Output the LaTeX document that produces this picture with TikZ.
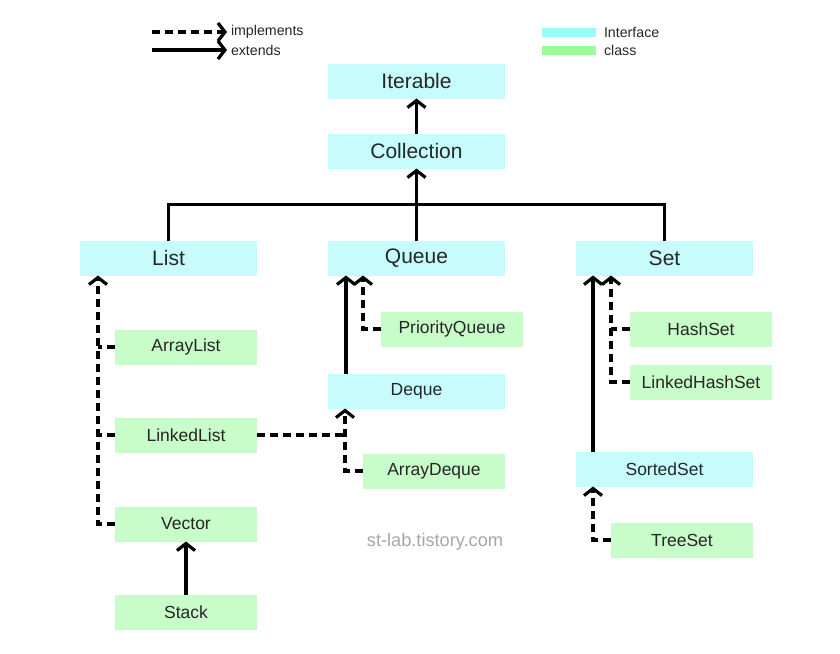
\documentclass[tikz,border=0pt]{standalone}
\usepackage{fontspec}
\setmainfont{Liberation Sans}
\usetikzlibrary{calc, arrows.meta, positioning}
\definecolor{ifacefill}{RGB}{198,252,252}
\definecolor{clsfill}{RGB}{200,252,200}
\definecolor{ifacekey}{RGB}{153,252,252}
\definecolor{clskey}{RGB}{153,252,153}

\begin{document}
\begin{tikzpicture}[
          x=0.5pt, y=-0.5pt,
          base/.style={rectangle, inner sep=0pt, outer sep=0pt, minimum height=17.5pt, text=black!85},
          iface/.style={base, fill=ifacefill, minimum width=88.5pt, font=\fontsize{10.5}{12}\selectfont},
          smalliface/.style={iface, font=\fontsize{8.75}{10}\selectfont},
          cls/.style={base, fill=clsfill, minimum width=71pt, font=\fontsize{8.75}{10}\selectfont},
          legbar/.style={rectangle, inner sep=0pt, outer sep=0pt, minimum width=27pt, minimum height=4.5pt},
          legtext/.style={inner sep=2pt, outer sep=0pt, anchor=west, text=black!85, font=\fontsize{7.1}{8}\selectfont},
          link/.style={line width=1.6pt},
          dashlink/.style={link, dash pattern=on 4pt off 2.5pt},
          arrow/.style={link, -{Straight Barb[length=3.5pt, width=9pt]}},
          dasharrow/.style={dashlink, -{Straight Barb[length=3.5pt, width=9pt]}}
        ]
          \useasboundingbox (0,0) rectangle (840,653);

          \coordinate (impl start) at (152,32);
          \node[legtext] (impl) at (227,32) {implements};
          \coordinate (ext start) at (152,50);
          \node[legtext] (ext) at (227,50) {extends};
          \draw[dasharrow] (impl start) -- (impl);
          \draw[arrow] (ext start) -- (ext);

          \node[legbar, fill=ifacekey] (keyiface) at (569,32.5) {};
          \node[legtext, right=2pt of keyiface] (keyifacetext) {Interface};
          \node[legbar, fill=clskey] (keycls) at (569,50) {};
          \node[legtext, right=2pt of keycls] (keyclstext) {class};

          \node[iface] (iterable) at (416.5,81) {Iterable};
          \node[iface, below=17.5pt of iterable] (collection) {Collection};
          \node[iface, below=36pt of collection] (queue) {Queue};
          \node[iface, left=35.5pt of queue] (list) {List};
          \node[iface, right=35.5pt of queue] (set) {Set};

          \node[cls, below=27pt of list.south east, anchor=north east] (arraylist) {ArrayList};
          \node[cls, below=26.5pt of arraylist] (linkedlist) {LinkedList};
          \node[cls, below=27pt of linkedlist] (vector) {Vector};
          \node[cls, below=26.5pt of vector] (stack) {Stack};

          \node[cls, below=18pt of queue.south east, anchor=north east, xshift=9pt] (pqueue) {PriorityQueue};
          \node[smalliface, below=49pt of queue] (deque) {Deque};
          \node[cls, below=22.5pt of deque.south east, anchor=north east] (arraydeque) {ArrayDeque};

          \node[cls, below=18pt of set.south east, anchor=north east, xshift=9.5pt] (hashset) {HashSet};
          \node[cls, below=9pt of hashset] (lhashset) {LinkedHashSet};
          \node[smalliface, below=88pt of set] (sortedset) {SortedSet};
          \node[cls, below=18pt of sortedset.south east, anchor=north east] (treeset) {TreeSet};

          \node[text=black!35, font=\fontsize{9.1}{11}\selectfont] (site) at (435,542) {st-lab.tistory.com};

          \coordinate (branch) at ($(collection.south)!0.5!(queue.north)$);
          \draw[link] (list.north) |- (branch) -| (set.north);
          \draw[arrow] (queue) -- (collection);
          \draw[arrow] (collection) -- (iterable);

          \coordinate (list in) at ([xshift=9pt]list.south west);
          \draw[dasharrow] (vector.west) -| (list in);
          \draw[dashlink] (arraylist.west) -- (arraylist.west -| list in);
          \draw[dashlink] (linkedlist.west) -- (linkedlist.west -| list in);
          \draw[arrow] (stack) -- (vector);

          \draw[arrow] ([xshift=9pt]deque.north west) -- ([xshift=9pt]queue.south west);
          \draw[dasharrow] (pqueue.west) -| ([xshift=17.5pt]queue.south west);
          \coordinate (deque in) at ([xshift=8.5pt]deque.south west);
          \draw[dasharrow] (arraydeque.west) -| (deque in);
          \draw[dashlink] (linkedlist.east) -- (linkedlist.east -| deque in);

          \draw[arrow] ([xshift=8.5pt]sortedset.north west) -- ([xshift=8.5pt]set.south west);
          \coordinate (set in) at ([xshift=17.5pt]set.south west);
          \draw[dasharrow] (lhashset.west) -| (set in);
          \draw[dashlink] (hashset.west) -- (hashset.west -| set in);
          \draw[dasharrow] (treeset.west) -| ([xshift=8.5pt]sortedset.south west);
        \end{tikzpicture}
\end{document}
